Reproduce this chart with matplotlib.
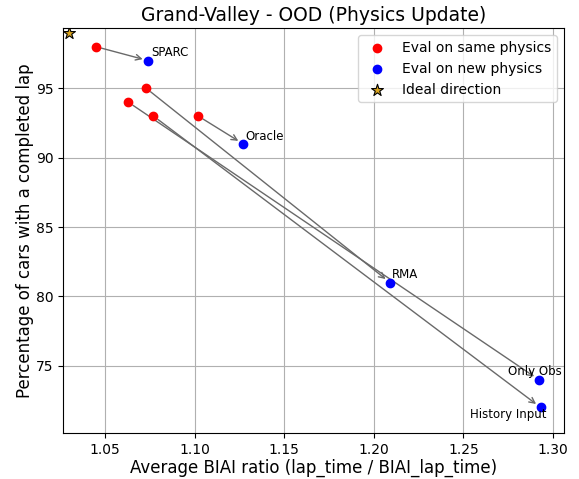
import matplotlib
matplotlib.use("Agg")
import matplotlib.pyplot as plt

# =========================
# Data
# =========================
METHODS = ["SPARC", "Oracle", "RMA", "Only Obs", "History Input"]

same_x = [1.045, 1.102, 1.073, 1.063, 1.077]
same_y = [98, 93, 95, 94, 93]

new_x = [1.074, 1.127, 1.209, 1.292, 1.293]
new_y = [97, 91, 81, 74, 72]

IDEAL_X = [1.03]
IDEAL_Y = [99]

# label offsets in points (hand tuned so labels don't overlap)
LABEL_OFFSETS = {
    "SPARC": (2, 3),
    "Oracle": (2, 3),
    "RMA": (1, 3),
    "Only Obs": (-22, 3),
    "History Input": (-51, -8),
}


def main():
    fig = plt.figure(figsize=(5.79, 4.79), dpi=100)
    ax = fig.add_axes([0.1093, 0.096, 0.8648, 0.845])

    ax.scatter(same_x, same_y, color="red", label="Eval on same physics", zorder=3)
    ax.scatter(new_x, new_y, color="blue", label="Eval on new physics", zorder=3)
    ax.scatter(IDEAL_X, IDEAL_Y, marker="*", s=80, color="goldenrod",
               edgecolors="black", linewidths=0.8, label="Ideal direction", zorder=4)

    for i, name in enumerate(METHODS):
        ax.annotate(
            "",
            xy=(new_x[i], new_y[i]),
            xytext=(same_x[i], same_y[i]),
            arrowprops=dict(arrowstyle="->", color="dimgray", lw=1,
                            shrinkA=4, shrinkB=4),
            zorder=2,
        )
        ax.annotate(
            name,
            xy=(new_x[i], new_y[i]),
            xytext=LABEL_OFFSETS[name],
            textcoords="offset points",
            fontsize=8.5,
        )

    ax.set_xlim(1.0267, 1.3061)
    ax.set_ylim(70.15, 99.33)

    ax.set_xlabel("Average BIAI ratio (lap_time / BIAI_lap_time)", fontsize=12, labelpad=1.5)
    ax.set_ylabel("Percentage of cars with a completed lap", fontsize=12, labelpad=1.5)
    ax.set_title("Grand-Valley - OOD (Physics Update)", fontsize=13.5, pad=5)

    ax.grid(True)
    ax.legend(loc="upper right")

    fig.savefig("out.png", dpi=100)


if __name__ == "__main__":
    main()
